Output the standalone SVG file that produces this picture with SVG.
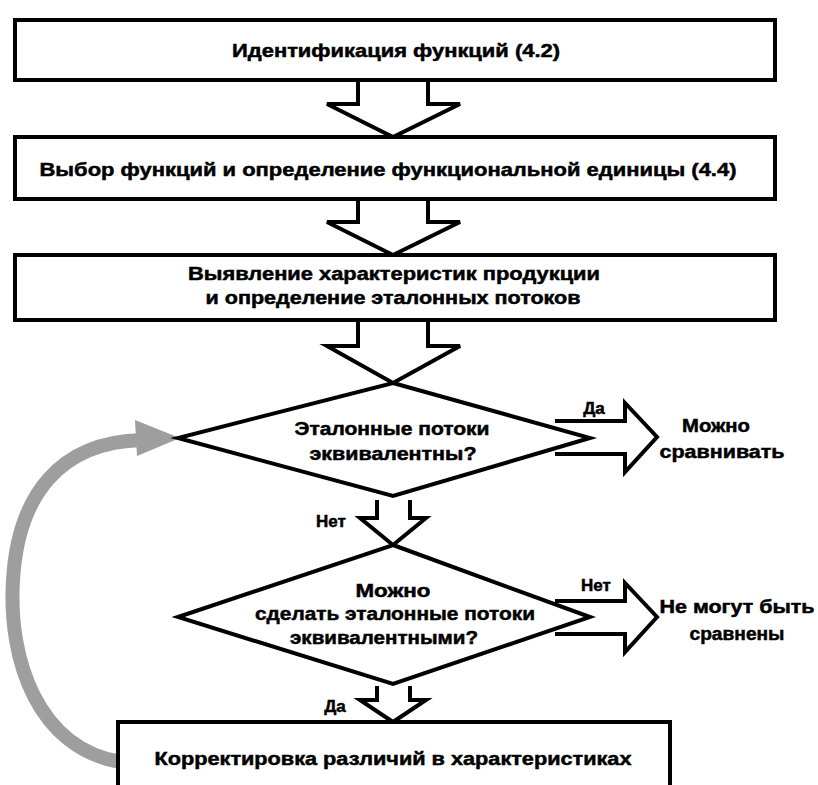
<svg xmlns="http://www.w3.org/2000/svg" width="818" height="785" viewBox="0 0 818 785">
<style>
.box{fill:#fff;stroke:#000;stroke-width:4}
.dia{fill:#fff;stroke:#000;stroke-width:4;stroke-linejoin:miter}
.arr{fill:#fff;stroke:#000;stroke-width:4;stroke-linejoin:miter}
.arro{fill:none;stroke:#000;stroke-width:4;stroke-linejoin:miter}
text{font-family:"Liberation Sans",Arial,sans-serif;font-weight:bold;font-size:19px;fill:#000;stroke:#000;stroke-width:0.5;text-anchor:middle}
</style>
<rect width="818" height="785" fill="#fff"/>
<g id="connectors">
  <polygon class="arr" points="358,80 358,104 327,104 393,137 460,104 428,104 428,80"/>
  <polygon class="arr" points="358,199 358,222 327,222 393,255 460,222 428,222 428,199"/>
  <polygon class="arr" points="358,320 358,346 327,346 393,383 460,346 428,346 428,320"/>
  <polyline class="arro" points="377,500 377,518 360,518 393,545 426,518 410,518 410,500"/>
  <polyline class="arro" points="377,686 377,700 360,700 393,722 426,700 410,700 410,686"/>
  <polyline class="arro" points="555,421 625,421 625,403 657,437 625,472 625,454 555,454"/>
  <polyline class="arro" points="555,601 625,601 625,583 657,617 625,652 625,634 555,634"/>
  <path d="M120,762 C38,748 8,660 13,580 C18,495 60,442 142,440" fill="none" stroke="#9e9e9e" stroke-width="14"/>
  <polygon points="135,420 180,438 137,456" fill="#9e9e9e"/>
  <text x="594" y="414" style="font-size:17px">Да</text>
  <text x="331" y="527" style="font-size:17px">Нет</text>
  <text x="596" y="591" style="font-size:17px">Нет</text>
  <text x="335" y="712" style="font-size:17px">Да</text>
</g>
<g id="n1">
  <rect class="box" x="15" y="20" width="760" height="60"/>
  <text x="396" y="57" textLength="328" lengthAdjust="spacingAndGlyphs">Идентификация функций (4.2)</text>
</g>
<g id="n2">
  <rect class="box" x="15" y="137" width="760" height="62"/>
  <text x="388" y="176" textLength="697" lengthAdjust="spacingAndGlyphs">Выбор функций и определение функциональной единицы (4.4)</text>
</g>
<g id="n3">
  <rect class="box" x="15" y="255" width="760" height="65"/>
  <text x="394" y="280" textLength="412" lengthAdjust="spacingAndGlyphs">Выявление характеристик продукции</text>
  <text x="393" y="304" textLength="375" lengthAdjust="spacingAndGlyphs">и определение эталонных потоков</text>
</g>
<g id="d1">
  <polygon class="dia" points="393,383 590,438 393,496 178,438"/>
  <text x="392" y="435" textLength="195" lengthAdjust="spacingAndGlyphs">Эталонные потоки</text>
  <text x="393" y="460" textLength="167" lengthAdjust="spacingAndGlyphs">эквивалентны?</text>
</g>
<g id="r1">
  <text x="716" y="432" textLength="68" lengthAdjust="spacingAndGlyphs">Можно</text>
  <text x="722" y="458" textLength="125" lengthAdjust="spacingAndGlyphs">сравнивать</text>
</g>
<g id="d2">
  <polygon class="dia" points="393,545 590,617 393,684 178,617"/>
  <text x="393" y="597" textLength="75" lengthAdjust="spacingAndGlyphs">Можно</text>
  <text x="395" y="620" textLength="280" lengthAdjust="spacingAndGlyphs">сделать эталонные потоки</text>
  <text x="384" y="644" textLength="188" lengthAdjust="spacingAndGlyphs">эквивалентными?</text>
</g>
<g id="r2">
  <text x="737" y="613" textLength="155" lengthAdjust="spacingAndGlyphs">Не могут быть</text>
  <text x="737" y="640" textLength="95" lengthAdjust="spacingAndGlyphs">сравнены</text>
</g>
<g id="n4">
  <rect class="box" x="118" y="722" width="552" height="75"/>
  <text x="393" y="765" textLength="477" lengthAdjust="spacingAndGlyphs">Корректировка различий в характеристиках</text>
</g>
</svg>
